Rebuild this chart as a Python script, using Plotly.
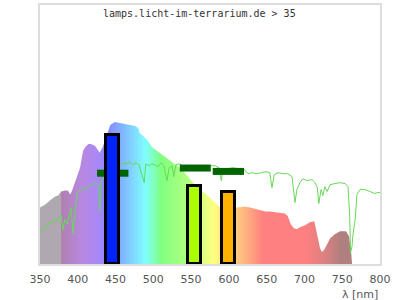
import plotly.graph_objects as go

# Lamp spectrum (relative units)
lamp_wl = [350, 357, 363, 370, 374, 378, 383, 387, 390, 392, 398, 403, 407, 410, 414, 417.5,
           423, 427, 429, 433, 436, 443, 449, 456, 462.5, 469, 476, 480, 482, 488, 493, 498,
           505, 513, 522, 535, 545, 552.5, 562, 575, 585.6, 589, 601, 610, 621, 628, 637,
           648, 654, 668, 674, 678, 682, 686, 690, 694, 701, 707, 713, 715, 718, 720.6, 723,
           726, 730, 734, 740, 747, 755, 759, 762, 763]
lamp_val = [57, 60, 64, 68, 69, 73, 74, 74, 70, 73, 86, 97, 114, 118, 121, 121,
            119, 114, 112, 118, 125, 140, 143, 142, 141, 140, 139, 137, 132, 128, 124, 118,
            114, 109, 104, 97, 89, 82, 75, 67, 59, 57, 56, 57, 58, 57, 55,
            53, 53, 52, 51, 48, 40, 36, 35, 37, 39, 42, 43, 36, 26, 16, 12,
            14, 20, 26, 30, 33, 33, 28, 10, 0]

# Sunlight reference spectrum
sun_wl = [350, 354, 358, 362, 366, 370, 374, 378, 380.4, 383, 386, 388, 391, 393.7, 396, 399,
          403, 407, 411, 415, 419, 423, 427, 429, 431, 435, 441, 447, 452, 457, 461, 465, 469,
          473, 477, 481, 485, 488, 490, 494, 498, 502, 506, 510, 514, 518, 521, 525, 527, 530,
          534, 539, 546, 555, 562, 568, 575, 582, 587, 590, 592, 599, 605, 615, 621, 625, 631,
          637, 644, 649, 654, 657, 660, 665, 672, 678, 683.5, 687.5, 690, 694, 698, 703, 710,
          714, 717, 719, 722, 724.5, 727, 730, 734, 740, 747, 754, 757.6, 760, 761, 763, 764,
          767, 769.5, 773.5, 780, 787, 793, 797, 800]
sun_val = [36, 33, 38, 42, 40, 45, 44, 49, 34, 45, 40, 47, 57, 31, 50, 72,
           74, 77, 75, 79, 80, 82, 80, 54, 84, 88, 94, 97, 99, 100, 102, 101, 103,
           100, 102, 100, 91, 82, 101, 99, 101, 100, 98, 102, 99, 84, 97, 99, 88, 100,
           101, 99, 99, 98, 99, 98, 99, 99, 97, 84, 96, 96, 97, 96, 95, 91, 92,
           91, 92, 93, 92, 77, 90, 92, 91, 91, 88, 62, 75, 82, 86, 84, 85,
           82, 77, 61, 75, 69, 78, 73, 80, 81, 82, 81, 78, 47, 11, 18, 28,
           44, 70, 75, 75, 73, 71, 72, 72]

# Band bars
bar_center = [446, 554.5, 599.5]
bar_width = [18, 18, 18]
bar_val = [130, 79, 73]
bar_colors = ["#0022ff", "#aaff00", "#ffb000"]

# Band reference levels (dark green segments)
seg_start = [425.5, 535, 578.6]
seg_end = [467, 576, 620]
seg_val = [91.5, 96.7, 93.3]

# Colour stops of the spectrum gradient (wavelength, colour)
grad_wl = [350, 377.9, 378, 405, 428, 440, 460, 490, 510, 545, 580, 600, 620, 645, 700,
           725, 748, 800]
grad_col = ["#b0a8b0", "#b0a8b0", "#b080b0", "#b888e0", "#a888f8", "#8888ff", "#80b8ff",
            "#80ffff", "#80ff80", "#b0ff80", "#ffff80", "#ffd880", "#ffb880", "#ff8080",
            "#ff8080", "#e08080", "#b08080", "#b08080"]

XMIN, XMAX = 350, 800
YMAX = 261
colorscale = [[(w - XMIN) / (XMAX - XMIN), c] for w, c in zip(grad_wl, grad_col)]

fig = go.Figure()
fig.add_trace(go.Scatter(
    x=lamp_wl, y=lamp_val, mode="lines", line=dict(width=0),
    fill="tozeroy",
    fillgradient=dict(type="horizontal", colorscale=colorscale, start=XMIN, stop=XMAX),
    hoverinfo="skip", showlegend=False))
fig.add_trace(go.Scatter(
    x=sun_wl, y=sun_val, mode="lines", line=dict(color="#66d955", width=1),
    showlegend=False))
for s, e, v in zip(seg_start, seg_end, seg_val):
    fig.add_trace(go.Scatter(x=[s, e], y=[v, v], mode="lines",
                             line=dict(color="#006400", width=7), showlegend=False))
fig.add_trace(go.Bar(x=bar_center, y=bar_val, width=bar_width,
                     marker=dict(color=bar_colors, line=dict(color="black", width=3)),
                     xaxis="x2", yaxis="y2", showlegend=False))

fig.update_layout(
    width=400, height=300,
    margin=dict(l=40, r=20, t=3, b=36),
    paper_bgcolor="white", plot_bgcolor="white",
    font=dict(family="DejaVu Sans", size=11, color="#555"),
    xaxis=dict(range=[XMIN, XMAX], tickvals=[350, 400, 450, 500, 550, 600, 650, 700, 750, 800],
               showgrid=False, zeroline=False, showline=True, mirror=True,
               linecolor="#dddddd", linewidth=1.5, ticks="outside", ticklen=4,
               tickcolor="rgba(0,0,0,0)", tickfont=dict(size=11, color="#555")),
    yaxis=dict(range=[0, YMAX], showgrid=False, zeroline=False, showline=True, mirror=True,
               linecolor="#dddddd", linewidth=1.5, showticklabels=False, ticks=""),
    xaxis2=dict(range=[XMIN, XMAX], overlaying="x", visible=False),
    yaxis2=dict(range=[0, YMAX], overlaying="y", visible=False),
    bargap=0,
    annotations=[
        dict(text="lamps.licht-im-terrarium.de &gt; 35", xref="paper", yref="paper",
             x=0.47, y=0.9655, xanchor="center", yanchor="middle", showarrow=False,
             font=dict(family="DejaVu Sans Mono", size=10, color="#333")),
        dict(text="λ [nm]", xref="paper", yref="paper", x=1.0, y=-0.119,
             xanchor="right", yanchor="middle", showarrow=False,
             font=dict(family="DejaVu Sans", size=11, color="#555")),
    ],
)

fig.write_html("out.html")
